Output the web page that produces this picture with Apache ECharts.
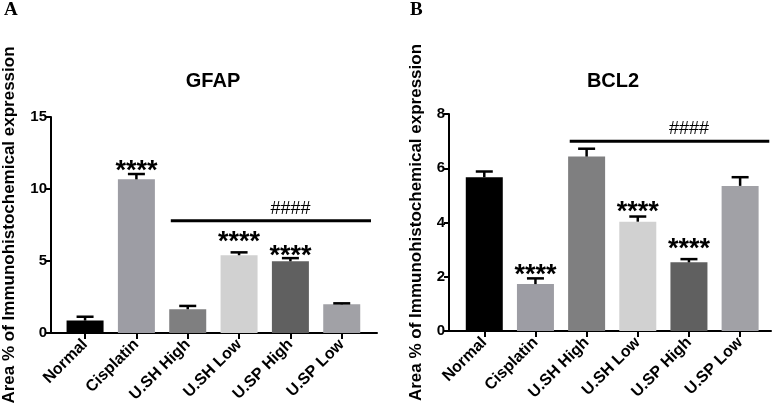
<!DOCTYPE html>
<html>
<head>
<meta charset="utf-8">
<script src="https://cdn.jsdelivr.net/npm/echarts@6/dist/echarts.min.js"></script>
<style>html,body{margin:0;padding:0;background:#fff}#c{width:777px;height:411px}</style>
</head>
<body>
<div id="c"></div>
<script>
const categories = ['Normal', 'Cisplatin', 'U.SH High', 'U.SH Low', 'U.SP High', 'U.SP Low'];

const gfapMeans = [0.86, 10.67, 1.65, 5.40, 4.98, 1.99];
const gfapErrors = [0.27, 0.37, 0.23, 0.20, 0.22, 0.07];
const gfapStars = ['', '****', '', '****', '****', ''];
const gfapStarLevels = [null, 11.62, null, 6.69, 5.72, null];
const gfapSigLevel = 7.8;
const gfapYTicks = [0, 5, 10, 15];

const bcl2Means = [5.67, 1.73, 6.43, 4.03, 2.53, 5.35];
const bcl2Errors = [0.21, 0.21, 0.29, 0.19, 0.12, 0.32];
const bcl2Stars = ['', '****', '', '****', '****', ''];
const bcl2StarLevels = [null, 2.28, null, 4.59, 3.24, null];
const bcl2SigLevel = 7.0;
const bcl2YTicks = [0, 2, 4, 6, 8];

const sigLabel = '####';
const sigFrom = 'U.SH High';
const sigTo = 'U.SP Low';
const sigLabelAt = 'U.SP High';
const yTitle = 'Area % of Immunohistochemical expression';

const barColors = ['#000000', '#9d9da4', '#7f7f80', '#d1d1d1', '#606060', '#a1a1a6'];
const FONT = 'Arial, "Liberation Sans", sans-serif';

const chart = echarts.init(document.getElementById('c'), null, {renderer: 'canvas'});

function errorSeries(xi, yi, means, errors, stars, starLevels) {
  return {
    type: 'custom', xAxisIndex: xi, yAxisIndex: yi, clip: false, z: 5,
    data: categories.map((c, i) => [i, means[i], errors[i]]),
    renderItem: function (params, api) {
      const i = api.value(0);
      const top = api.coord([i, api.value(1)]);
      const cap = api.coord([i, api.value(1) + api.value(2)]);
      const st = {stroke: '#000', lineWidth: 2.5};
      const children = [
        {type: 'line', shape: {x1: top[0], y1: top[1], x2: cap[0], y2: cap[1]}, style: st},
        {type: 'line', shape: {x1: cap[0] - 8.5, y1: cap[1], x2: cap[0] + 8.5, y2: cap[1]}, style: st}
      ];
      const idx = params.dataIndex;
      if (stars[idx]) {
        const p = api.coord([i, starLevels[idx]]);
        children.push({type: 'text', x: p[0], y: p[1] + 6, style: {
          text: stars[idx], fontSize: 27, fontWeight: 'bold', fontFamily: FONT, fill: '#000',
          align: 'center', verticalAlign: 'middle'}});
      }
      return {type: 'group', children: children};
    }
  };
}

function sigSeries(xi, yi, level) {
  return {
    type: 'custom', xAxisIndex: xi, yAxisIndex: yi, clip: false, z: 5,
    data: [[categories.indexOf(sigFrom), categories.indexOf(sigTo), level, categories.indexOf(sigLabelAt)]],
    renderItem: function (params, api) {
      const band = api.size([1, 0])[0];
      const a = api.coord([api.value(0), api.value(2)]);
      const b = api.coord([api.value(1), api.value(2)]);
      const t = api.coord([api.value(3), api.value(2)]);
      return {type: 'group', children: [
        {type: 'line', shape: {x1: a[0] - band * 0.33, y1: a[1], x2: b[0] + band * 0.57, y2: b[1]},
          style: {stroke: '#000', lineWidth: 3}},
        {type: 'text', x: t[0], y: a[1] - 3, style: {text: sigLabel, fontSize: 18, fontFamily: FONT,
          fill: '#000', align: 'center', verticalAlign: 'bottom'}}
      ]};
    }
  };
}

function axisGridY(gi, ticks, gap) {
  return {
    gridIndex: gi, type: 'value', min: ticks[0], max: ticks[ticks.length - 1],
    interval: ticks[1] - ticks[0],
    axisLine: {show: true, lineStyle: {color: '#000', width: 2}},
    axisTick: {show: true, length: 5, lineStyle: {color: '#000', width: 2}},
    axisLabel: {color: '#000', fontSize: 15, fontWeight: 'bold', fontFamily: FONT, margin: 4},
    splitLine: {show: false},
    name: yTitle, nameLocation: 'middle', nameGap: gap,
    nameTextStyle: {color: '#000', fontSize: 17, fontWeight: 'bold', fontFamily: FONT}
  };
}
function hiddenY(gi, ticks) {
  return {gridIndex: gi, type: 'value', min: ticks[0], max: ticks[ticks.length - 1], show: false, splitLine: {show: false}};
}
function lineX(gi) {
  return {gridIndex: gi, type: 'value', min: 0, max: 1,
    axisLine: {show: true, onZero: false, lineStyle: {color: '#000', width: 2}},
    axisTick: {show: false}, axisLabel: {show: false}, splitLine: {show: false}};
}
function catX(gi) {
  return {gridIndex: gi, type: 'category', data: categories,
    axisLine: {show: false},
    axisTick: {show: true, alignWithLabel: true, length: 6, lineStyle: {color: '#000', width: 2}},
    axisLabel: {rotate: 45, interval: 0, color: '#000', fontSize: 16, fontWeight: 'bold', fontFamily: FONT, margin: 9},
    splitLine: {show: false}};
}
function barSeries(xi, yi, means) {
  return {type: 'bar', xAxisIndex: xi, yAxisIndex: yi, barWidth: 37, z: 3,
    data: means.map((v, i) => ({value: v, itemStyle: {color: barColors[i]}}))};
}

chart.setOption({
  animation: false,
  backgroundColor: '#fff',
  title: [
    {text: 'A', left: 4, top: 1, padding: 0, textStyle: {fontFamily: '"Liberation Serif", "Times New Roman", serif', fontSize: 19, fontWeight: 'bold', color: '#000'}},
    {text: 'B', left: 410, top: 1, padding: 0, textStyle: {fontFamily: '"Liberation Serif", "Times New Roman", serif', fontSize: 19, fontWeight: 'bold', color: '#000'}},
    {text: 'GFAP', left: 213, top: 71, padding: 0, textAlign: 'center', textStyle: {fontFamily: FONT, fontSize: 20, fontWeight: 'bold', color: '#000'}},
    {text: 'BCL2', left: 613, top: 71, padding: 0, textAlign: 'center', textStyle: {fontFamily: FONT, fontSize: 20, fontWeight: 'bold', color: '#000'}}
  ],
  grid: [
    {left: 49, top: 117, width: 328, height: 216},
    {left: 59.4, top: 117, width: 308, height: 216},
    {left: 449, top: 114, width: 322, height: 217},
    {left: 458.7, top: 114, width: 307, height: 217}
  ],
  xAxis: [lineX(0), catX(1), lineX(2), catX(3)],
  yAxis: [axisGridY(0, gfapYTicks, 33), hiddenY(1, gfapYTicks), axisGridY(2, bcl2YTicks, 24), hiddenY(3, bcl2YTicks)],
  series: [
    barSeries(1, 1, gfapMeans),
    errorSeries(1, 1, gfapMeans, gfapErrors, gfapStars, gfapStarLevels),
    sigSeries(1, 1, gfapSigLevel),
    barSeries(3, 3, bcl2Means),
    errorSeries(3, 3, bcl2Means, bcl2Errors, bcl2Stars, bcl2StarLevels),
    sigSeries(3, 3, bcl2SigLevel)
  ]
});
</script>
</body>
</html>
